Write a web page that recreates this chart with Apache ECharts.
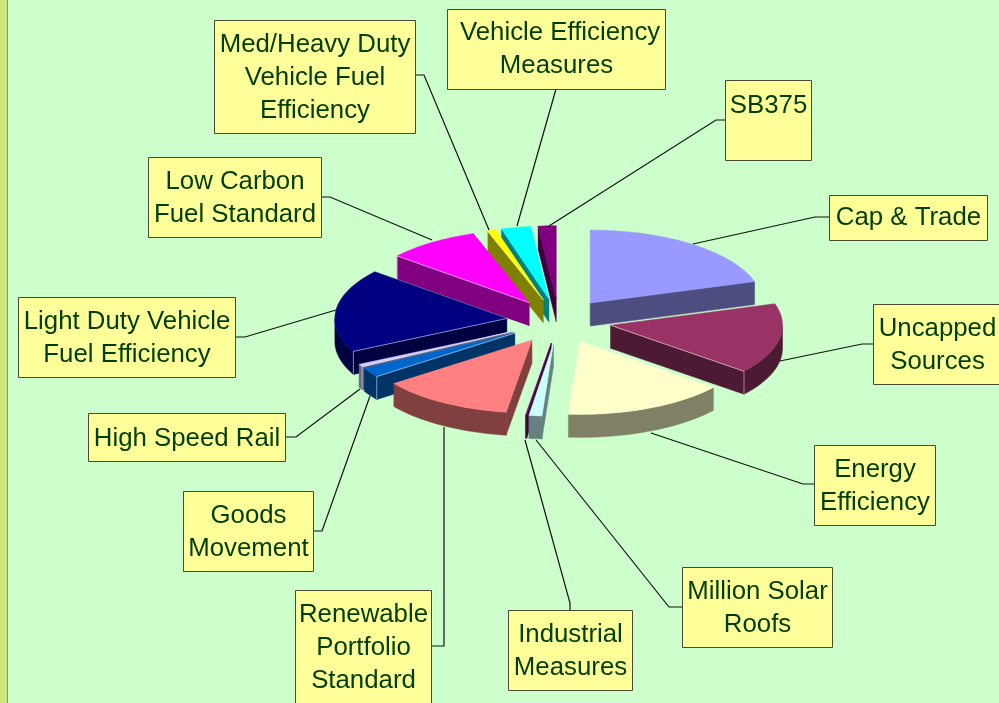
<!DOCTYPE html>
<html>
<head>
<meta charset="utf-8">
<style>html,body{margin:0;padding:0;background:#CCFFCC;overflow:hidden}#c{width:999px;height:703px}</style>
<script src="https://cdn.jsdelivr.net/npm/echarts@6/dist/echarts.min.js"></script>
</head>
<body>
<div id="c"></div>
<script>
// Data (clockwise from 12 o'clock)
const categories = ['Cap & Trade','Uncapped Sources','Energy Efficiency','Million Solar Roofs','Industrial Measures','Renewable Portfolio Standard','Goods Movement','High Speed Rail','Light Duty Vehicle Fuel Efficiency','Low Carbon Fuel Standard','Med/Heavy Duty Vehicle Fuel Efficiency','Vehicle Efficiency Measures','SB375'];
const seriesValues = [35, 27, 26.3, 2.1, 0.2, 21.5, 3.7, 1, 32, 15, 1.4, 4.8, 2.9];

// Styles
const topColors  = ['#9999FF','#993366','#FFFFCC','#CCFFFF','#660066','#FF8080','#0066CC','#CCCCFF','#000080','#FF00FF','#FFFF00','#00FFFF','#800080'];
const sideColors = ['#4D4D80','#4D1A33','#808066','#668080','#330033','#804040','#003366','#666680','#000040','#800080','#808000','#008080','#400040'];
const edgeHighlight = [false,true,false,false,false,false,true,true,true,true,true,false,false];

// Pie projection
const pieCenter = [559, 321], radiusX = 172, radiusY = 73, pieDepth = 23, explode = 0.305;

// Callouts
const calloutText = ['Cap & Trade','Uncapped\nSources','Energy\nEfficiency','Million Solar\nRoofs','Industrial\nMeasures','Renewable\nPortfolio\nStandard','Goods\nMovement','High Speed Rail','Light Duty Vehicle\nFuel Efficiency','Low Carbon\nFuel Standard','Med/Heavy Duty\nVehicle Fuel\nEfficiency',' Vehicle Efficiency\nMeasures','SB375'];
const calloutBox = [[829,195,158,45],[873,304,128,80],[814,445,121,80],[682,567,150,80],[508,610,124,80],[295,590,136,113],[183,491,130,80],[88,413,197,48],[18,297,217,80],[148,157,173,80],[214,20,201,113],[447,9,218,80],[725,80,86,80]];
const calloutTextY = [201,312,453,575,618,598,499,422,305,165,28,16,89];
const calloutLeader = [
  [[829,217],[815,217],[693,244]],
  [[873,344],[862,344],[780,361]],
  [[814,484],[803,484],[651,433]],
  [[682,607],[669,607],[536,440]],
  [[570,610],[570,603],[525,440]],
  [[431,646],[444,646],[444,427]],
  [[313,531],[322,531],[370,396]],
  [[285,437],[296,437],[360,389]],
  [[235,337],[245,337],[336,310]],
  [[321,197],[330,197],[432,240]],
  [[415,75],[424,75],[489,230]],
  [[556,89],[517,226]],
  [[725,120],[716,120],[549,226]]
];

const total = seriesValues.reduce((a, b) => a + b, 0);
const rad = d => d * Math.PI / 180;
let acc = 0;
const sweeps = seriesValues.map(v => { const s = acc / total * 360; acc += v; return [s, acc / total * 360]; });
const mids = sweeps.map(s => (s[0] + s[1]) / 2);
// painter's order: back of the pie first
const order = mids.map((m, i) => [Math.cos(rad(m)), i]).sort((a, b) => b[0] - a[0]).map(o => o[1]);

function renderSlice(params, api) {
  const i = params.dataIndex;
  const [a0, a1] = sweeps[i];
  const m = mids[i];
  const ax = pieCenter[0] + explode * radiusX * Math.sin(rad(m));
  const ay = pieCenter[1] - explode * radiusY * Math.cos(rad(m));
  const pt = (a, d) => [ax + radiusX * Math.sin(rad(a)), ay - radiusY * Math.cos(rad(a)) + (d || 0)];
  const arc = (from, to, d) => {
    const n = Math.max(2, Math.ceil(Math.abs(to - from) / 2));
    const out = [];
    for (let k = 0; k <= n; k++) out.push(pt(from + (to - from) * k / n, d));
    return out;
  };
  const base = order.indexOf(i) * 10 + 1;
  const kids = [];
  const poly = (points, fill, z) => kids.push({type:'polygon', shape:{points}, style:{fill, stroke:fill, lineWidth:0.5}, z2:base + z, silent:true});
  const hair = (points, z) => kids.push({type:'polyline', shape:{points}, style:{fill:null, stroke:'rgba(255,255,255,0.5)', lineWidth:1}, z2:base + z, silent:true});
  const apexBottom = [ax, ay + pieDepth];
  // cut faces
  if (a1 > 0 && a1 < 180) {
    poly([[ax, ay], pt(a1), pt(a1, pieDepth), apexBottom], sideColors[i], 0);
  }
  if (a0 > 180 && a0 < 360) {
    poly([[ax, ay], pt(a0), pt(a0, pieDepth), apexBottom], sideColors[i], 0);
  }
  // outer rim
  const r0 = Math.max(a0, 90), r1 = Math.min(a1, 270);
  if (r1 > r0) {
    poly(arc(r0, r1, 0).concat(arc(r1, r0, pieDepth)), sideColors[i], 1);
  }
  // top surface
  poly([[ax, ay]].concat(arc(a0, a1, 0)), topColors[i], 2);
  // thin highlight along visible front edges
  if (edgeHighlight[i]) {
    const e = (a1 > 0 && a1 < 180) ? a1 : a0;
    hair([[ax, ay], pt(e), pt(e, pieDepth)], 3);
  }
  return {type:'group', children:kids};
}

const graphics = [
  {type:'rect', shape:{x:0, y:0, width:7, height:703}, style:{fill:'#CFE67F'}, z:0, silent:true},
  {type:'rect', shape:{x:7, y:0, width:1, height:703}, style:{fill:'#8A9A50'}, z:0, silent:true}
];
calloutText.forEach((t, i) => {
  const [x, y, w, h] = calloutBox[i];
  graphics.push({type:'polyline', shape:{points:calloutLeader[i]}, style:{fill:null, stroke:'#111111', lineWidth:1.2}, z:50, silent:true});
  graphics.push({type:'rect', shape:{x:x + 0.5, y:y + 0.5, width:w, height:h}, style:{fill:'#FFFF99', stroke:'#4A4A30', lineWidth:1}, z:51, silent:true});
  graphics.push({type:'text', x:x + w / 2 + 0.5, y:calloutTextY[i],
    style:{text:t, fill:'#003D00', font:'25.8px "Liberation Sans", Arial, sans-serif', lineHeight:33, align:'center', verticalAlign:'top'}, z:52, silent:true});
});

const chart = echarts.init(document.getElementById('c'), null, {renderer:'canvas', width:999, height:703});
chart.setOption({
  backgroundColor:'#CCFFCC',
  animation:false,
  tooltip:{show:false},
  graphic:{elements:graphics},
  series:[{
    type:'custom',
    coordinateSystem:'none',
    renderItem:renderSlice,
    clip:false,
    data:categories.map((name, i) => ({name, value:[seriesValues[i]]})),
    z:10
  }]
});
</script>
</body>
</html>
